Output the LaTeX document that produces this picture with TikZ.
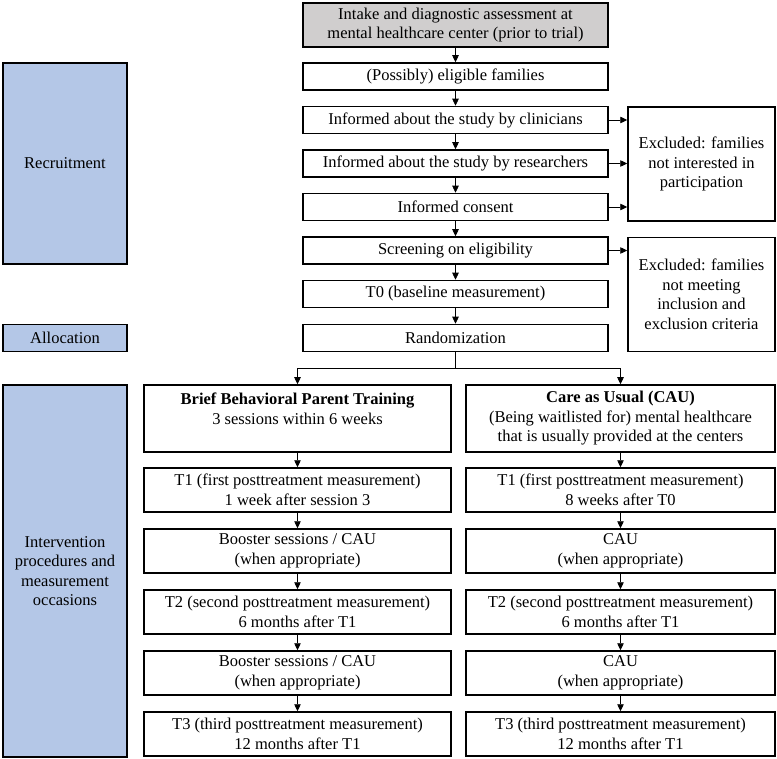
\documentclass[tikz,border=0pt]{standalone}
\usepackage{fontspec}
\setmainfont{Liberation Serif}
\usetikzlibrary{arrows.meta,calc}
\definecolor{sideblue}{HTML}{B4C7E7}
\definecolor{topgray}{HTML}{D0CECE}
\tikzset{
  box/.style={draw=black, line width=1.5pt, align=center, inner sep=0pt, font=\fontsize{16.5}{19.5}\selectfont},
  mainbox/.style={box, minimum width=305pt, minimum height=27pt},
  colbox/.style={box, minimum width=307pt, minimum height=44pt},
  sidebox/.style={box, fill=sideblue, minimum width=124pt},
  exbox/.style={box, minimum width=147pt},
  arr/.style={draw=black, line width=0.7pt, -{Triangle[length=7pt,width=6.5pt]}},
  ln/.style={draw=black, line width=0.7pt}
}
\begin{document}
\begin{tikzpicture}[x=1pt,y=-1pt]
\useasboundingbox (0,0) rectangle (777,759);
% main column
\node[mainbox, fill=topgray, minimum height=44pt] (top) at (455.5,25) {Intake and diagnostic assessment at\\mental healthcare center (prior to trial)};
\node[mainbox] (poss) at (455.5,76.5) {(Possibly) eligible families};
\node[mainbox] (clin) at (455.5,120) {Informed about the study by clinicians};
\node[mainbox] (res) at (455.5,163.5) {Informed about the study by researchers};
\node[mainbox] (cons) at (455.5,207) {Informed consent};
\node[mainbox] (scr) at (455.5,250.5) {Screening on eligibility};
\node[mainbox] (t0) at (455.5,294) {T0 (baseline measurement)};
\node[mainbox] (rand) at (455.5,338) {Randomization};
% excluded
\node[exbox, minimum height=114pt] (ex1) at (701.5,164) {Excluded: families\\not interested in\\participation};
\node[exbox, minimum height=114pt] (ex2) at (701.5,294.5) {Excluded: families\\not meeting\\inclusion and\\exclusion criteria};
% side
\node[sidebox, minimum height=201pt] (recr) at (65,163.5) {Recruitment};
\node[sidebox, minimum height=27pt] (alloc) at (65,338) {Allocation};
\node[sidebox, minimum height=372pt] (interv) at (65,571) {Intervention\\procedures and\\measurement\\occasions};
% arms
\node[colbox, minimum height=67pt] (bpt) at (297.5,418.5) {\textbf{Brief Behavioral Parent Training}\\3 sessions within 6 weeks\\\mbox{}};
\node[colbox, minimum width=309pt, minimum height=67pt] (cau) at (620.5,418.5) {\textbf{Care as Usual (CAU)}\\(Being waitlisted for) mental healthcare\\that is usually provided at the centers};
\node[colbox] (lt1) at (297.5,490) {T1 (first posttreatment measurement)\\1 week after session 3};
\node[colbox] (lb1) at (297.5,551) {Booster sessions / CAU\\(when appropriate)};
\node[colbox] (lt2) at (297.5,612) {T2 (second posttreatment measurement)\\6 months after T1};
\node[colbox] (lb2) at (297.5,673) {Booster sessions / CAU\\(when appropriate)};
\node[colbox] (lt3) at (297.5,734) {T3 (third posttreatment measurement)\\12 months after T1};
\node[colbox, minimum width=309pt] (rt1) at (620.5,490) {T1 (first posttreatment measurement)\\8 weeks after T0};
\node[colbox, minimum width=309pt] (rb1) at (620.5,551) {CAU\\(when appropriate)};
\node[colbox, minimum width=309pt] (rt2) at (620.5,612) {T2 (second posttreatment measurement)\\6 months after T1};
\node[colbox, minimum width=309pt] (rb2) at (620.5,673) {CAU\\(when appropriate)};
\node[colbox, minimum width=309pt] (rt3) at (620.5,734) {T3 (third posttreatment measurement)\\12 months after T1};
% vertical arrows
\draw[arr] (top) -- (poss);
\draw[arr] (poss) -- (clin);
\draw[arr] (clin) -- (res);
\draw[arr] (res) -- (cons);
\draw[arr] (cons) -- (scr);
\draw[arr] (scr) -- (t0);
\draw[arr] (t0) -- (rand);
\draw[arr] (bpt) -- (lt1);
\draw[arr] (lt1) -- (lb1);
\draw[arr] (lb1) -- (lt2);
\draw[arr] (lt2) -- (lb2);
\draw[arr] (lb2) -- (lt3);
\draw[arr] (cau.south -| rt1) -- (rt1);
\draw[arr] (rt1) -- (rb1);
\draw[arr] (rb1) -- (rt2);
\draw[arr] (rt2) -- (rb2);
\draw[arr] (rb2) -- (rt3);
% excluded arrows
\draw[arr] (clin.east) -- (clin.east -| ex1.west);
\draw[arr] (res.east) -- (res.east -| ex1.west);
\draw[arr] (cons.east) -- (cons.east -| ex1.west);
\draw[arr] (scr.east) -- (scr.east -| ex2.west);
% split
\coordinate (sp) at ($(rand.south)+(0,16.5)$);
\draw[ln] (rand.south) -- (sp);
\draw[arr] (sp) -| (bpt.north);
\draw[arr] (sp) -| (cau.north);
\end{tikzpicture}
\end{document}
